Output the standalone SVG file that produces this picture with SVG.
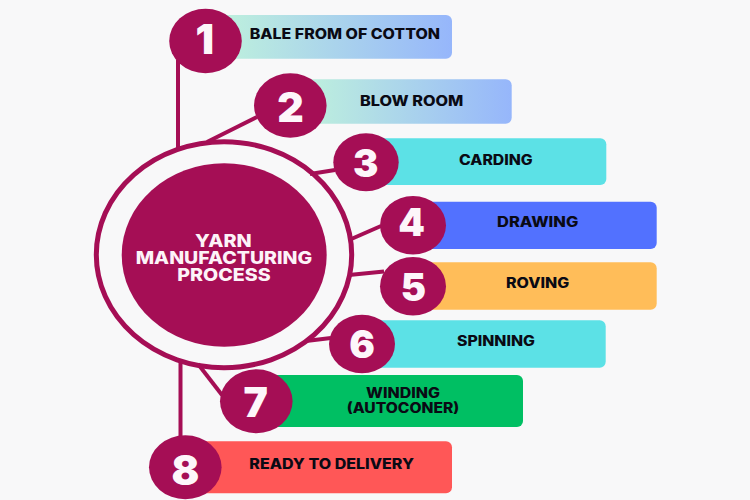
<svg xmlns="http://www.w3.org/2000/svg" width="750" height="500" viewBox="0 0 750 500">
<style>
.c{fill:#a50e55}
.l{stroke:#a50e55;stroke-width:4;fill:none}
.t{font-family:Inter,"Liberation Sans",sans-serif;font-weight:800;font-size:14px;fill:#0a0a14}
.w{font-family:Inter,"Liberation Sans",sans-serif;font-weight:800;font-size:17.5px;fill:#fdf3f8}
.n{font-family:Inter,"Liberation Sans",sans-serif;font-weight:900;fill:#fdf6fa;text-anchor:middle}
</style>
<defs>
<linearGradient id="g"><stop offset="0" stop-color="#bff2dc"/><stop offset="1" stop-color="#96b6fb"/></linearGradient>
</defs>
<rect width="750" height="500" fill="#f8f8f9"/>
<g id="connectors" class="l">
<path d="M178 60V150"/>
<path d="M207 142L257 117"/>
<path d="M310 174L335 170"/>
<path d="M349 240L381 226"/>
<path d="M349 275L384 271.500"/>
<path d="M306 341L331 338"/>
<path d="M198 364L222 395"/>
<path d="M180.500 360V440"/>
</g>
<g id="center">
<ellipse cx="224" cy="254.700" rx="127.700" ry="113" fill="none" stroke="#a50e55" stroke-width="5"/>
<ellipse class="c" cx="224.200" cy="255" rx="102.500" ry="91.700"/>
<text class="w"><tspan x="195" y="247.300" textLength="56.700" lengthAdjust="spacingAndGlyphs">YARN</tspan><tspan x="135.700" y="264" textLength="176.600" lengthAdjust="spacingAndGlyphs">MANUFACTURING</tspan><tspan x="177.300" y="281" textLength="93.400" lengthAdjust="spacingAndGlyphs">PROCESS</tspan></text>
</g>
<g id="step1">
<rect x="215" y="15" width="237" height="43.700" rx="6" fill="url(#g)"/>
<ellipse class="c" cx="205.500" cy="41" rx="36.300" ry="32.300"/>
<text class="n" x="204.700" y="54" font-size="41">1</text>
<text class="t" x="249.700" y="39.300" textLength="190.300" lengthAdjust="spacingAndGlyphs">BALE FROM OF COTTON</text>
</g>
<g id="step2">
<rect x="300" y="79.300" width="211.700" height="44.400" rx="6" fill="url(#g)"/>
<ellipse class="c" cx="290.300" cy="105.500" rx="36.300" ry="32.200"/>
<text class="n" x="290.500" y="121.700" font-size="41">2</text>
<text class="t" x="360" y="105.700" textLength="103.300" lengthAdjust="spacingAndGlyphs">BLOW ROOM</text>
</g>
<g id="step3">
<rect x="375" y="138.300" width="231.300" height="46.700" rx="6" fill="#5ce1e6"/>
<ellipse class="c" cx="366" cy="162.300" rx="32.700" ry="29"/>
<text class="n" x="365.700" y="177.300" font-size="38">3</text>
<text class="t" x="459" y="164.700" textLength="73.700" lengthAdjust="spacingAndGlyphs">CARDING</text>
</g>
<g id="step4">
<rect x="420" y="201.700" width="236.700" height="47.300" rx="6" fill="#5271ff"/>
<ellipse class="c" cx="413" cy="225.300" rx="33" ry="29.300"/>
<text class="n" x="411.700" y="236" font-size="38">4</text>
<text class="t" x="497" y="226.700" textLength="81.300" lengthAdjust="spacingAndGlyphs">DRAWING</text>
</g>
<g id="step5">
<rect x="420" y="262.300" width="236.700" height="47.400" rx="6" fill="#ffbd59"/>
<ellipse class="c" cx="413" cy="286.300" rx="33" ry="29.300"/>
<text class="n" x="413.500" y="301" font-size="38">5</text>
<text class="t" x="506" y="288" textLength="63.300" lengthAdjust="spacingAndGlyphs">ROVING</text>
</g>
<g id="step6">
<rect x="370" y="320.300" width="235.700" height="47.400" rx="6" fill="#5ce1e6"/>
<ellipse class="c" cx="362" cy="344" rx="33" ry="29.300"/>
<text class="n" x="362" y="358" font-size="38">6</text>
<text class="t" x="457" y="346" textLength="78" lengthAdjust="spacingAndGlyphs">SPINNING</text>
</g>
<g id="step7">
<rect x="265" y="375" width="258" height="52" rx="6" fill="#00bf63"/>
<ellipse class="c" cx="256.300" cy="401.300" rx="36.300" ry="32"/>
<text class="n" x="255.700" y="417.300" font-size="41">7</text>
<text class="t"><tspan x="366" y="398.300" textLength="74" lengthAdjust="spacingAndGlyphs">WINDING</tspan><tspan x="346.700" y="413.300" textLength="112.600" lengthAdjust="spacingAndGlyphs">(AUTOCONER)</tspan></text>
</g>
<g id="step8">
<rect x="195" y="441.300" width="257" height="52" rx="6" fill="#ff5757"/>
<ellipse class="c" cx="185.300" cy="467.300" rx="36.300" ry="32"/>
<text class="n" x="185.500" y="485" font-size="41">8</text>
<text class="t" x="249.300" y="468.700" textLength="164.700" lengthAdjust="spacingAndGlyphs">READY TO DELIVERY</text>
</g>
</svg>
